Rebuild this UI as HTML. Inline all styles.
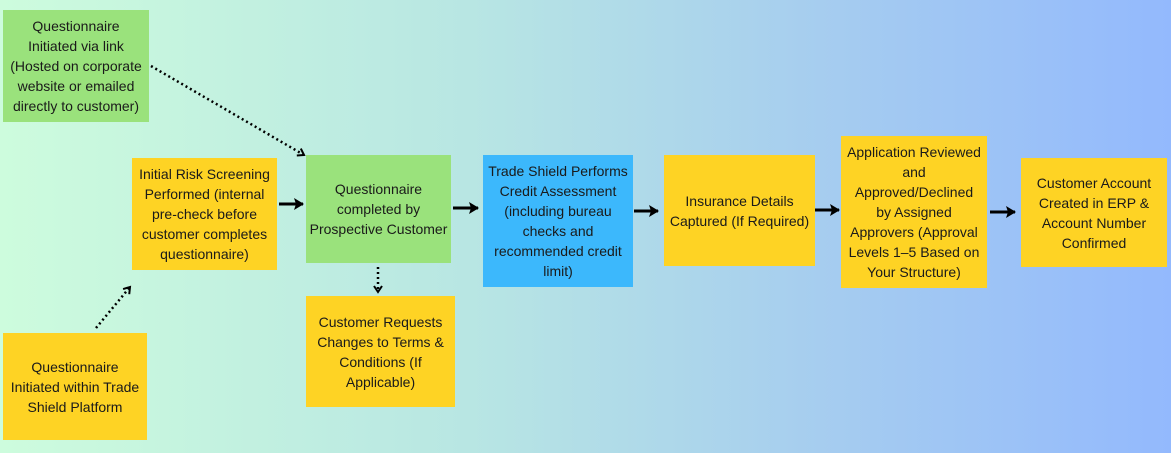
<!DOCTYPE html>
<html><head><meta charset="utf-8"><style>
html,body{margin:0;padding:0}
body{width:1171px;height:453px;position:relative;overflow:hidden;background:linear-gradient(90deg,#cdfcdd 0%,#b8e6e3 40%,#a6cdef 70%,#93b9fd 100%);font-family:"Liberation Sans",sans-serif;}
.b{position:absolute;display:flex;align-items:center;justify-content:center;text-align:center;font-size:14px;line-height:20px;color:#1a1a1a;box-sizing:border-box;padding:0 1px;white-space:nowrap}
.g{background:#9ae27c}.y{background:#fed324}.bl{background:#3cb8fc}
svg{position:absolute;left:0;top:0}
</style></head><body>
<div class="b g" style="left:3px;top:10px;width:146px;height:112px">Questionnaire<br>Initiated via link<br>(Hosted on corporate<br>website or emailed<br>directly to customer)</div>
<div class="b y" style="left:132px;top:158px;width:145px;height:112px">Initial Risk Screening<br>Performed (internal<br>pre-check before<br>customer completes<br>questionnaire)</div>
<div class="b g" style="left:306px;top:155px;width:145px;height:108px">Questionnaire<br>completed by<br>Prospective Customer</div>
<div class="b y" style="left:3px;top:333px;width:144px;height:107px">Questionnaire<br>Initiated within Trade<br>Shield Platform</div>
<div class="b y" style="left:306px;top:296px;width:149px;height:111px">Customer Requests<br>Changes to Terms &amp;<br>Conditions (If<br>Applicable)</div>
<div class="b bl" style="left:483px;top:155px;width:150px;height:132px">Trade Shield Performs<br>Credit Assessment<br>(including bureau<br>checks and<br>recommended credit<br>limit)</div>
<div class="b y" style="left:664px;top:155px;width:151px;height:111px">Insurance Details<br>Captured (If Required)</div>
<div class="b y" style="left:841px;top:136px;width:146px;height:152px">Application Reviewed<br>and<br>Approved/Declined<br>by Assigned<br>Approvers (Approval<br>Levels 1–5 Based on<br>Your Structure)</div>
<div class="b y" style="left:1021px;top:158px;width:146px;height:109px">Customer Account<br>Created in ERP &amp;<br>Account Number<br>Confirmed</div>
<svg width="1171" height="453">
<defs><marker id="a" markerUnits="userSpaceOnUse" markerWidth="10" markerHeight="12" refX="9" refY="6" orient="auto"><path d="M0,0 L10,6 L0,12 L2,6 z" fill="#000"/></marker>
<marker id="o" markerUnits="userSpaceOnUse" markerWidth="10" markerHeight="10" refX="8" refY="5" orient="auto"><path d="M2,1 L8,5 L2,9" fill="none" stroke="#000" stroke-width="2"/></marker></defs>
<g stroke="#000" stroke-width="3" fill="none" marker-end="url(#a)">
<line x1="279" y1="204" x2="303" y2="204"/>
<line x1="453" y1="208" x2="478" y2="208"/>
<line x1="634" y1="211" x2="658" y2="211"/>
<line x1="815" y1="210" x2="839" y2="210"/>
<line x1="990" y1="212" x2="1015" y2="212"/>
</g>
<g stroke="#000" stroke-width="2.5" fill="none" stroke-dasharray="2,3" marker-end="url(#o)">
<line x1="151" y1="66" x2="304" y2="155"/>
<line x1="96" y1="328" x2="130" y2="287"/>
<line x1="378" y1="267" x2="378" y2="292"/>
</g>
</svg>
</body></html>
